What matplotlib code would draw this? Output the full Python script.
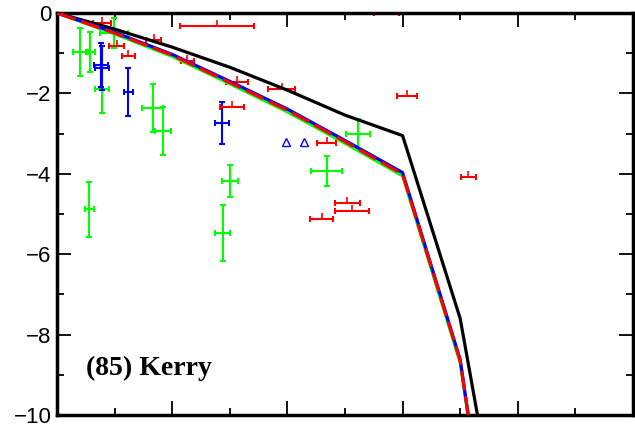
import numpy as np
import matplotlib
matplotlib.use("Agg")
import matplotlib.pyplot as plt

# model curves
curve_x = [0, 0.5, 1.0, 1.5, 2.0, 2.5, 3.0, 3.5, 3.65]
black_y = [0, -0.40, -0.85, -1.35, -1.92, -2.54, -3.05, -7.6, -10.0]
mix_x = [0, 0.5, 1.0, 1.5, 2.0, 2.5, 3.0, 3.5, 3.57]
blue_y = [0, -0.48, -1.03, -1.70, -2.39, -3.17, -3.97, -8.62, -10.0]
green_y = [0, -0.52, -1.08, -1.76, -2.46, -3.24, -4.05, -8.70, -10.05]
red_y = [0, -0.50, -1.05, -1.73, -2.42, -3.20, -4.01, -8.65, -10.0]

# green data points (x, y, xerr, yerr)
gx = [0.20, 0.29, 0.495, 0.39, 0.83, 0.92, 0.28, 1.50, 1.44, 2.61, 2.34]
gy = [-0.97, -0.97, -0.50, -1.89, -2.37, -2.93, -4.88, -4.18, -5.47, -3.01, -3.93]
gxe = [0.065, 0.04, 0.12, 0.06, 0.09, 0.07, 0.04, 0.07, 0.065, 0.105, 0.135]
gye = [0.60, 0.50, 0.37, 0.60, 0.60, 0.60, 0.68, 0.40, 0.70, 0.37, 0.38]

# blue data points
bx = [0.38, 0.39, 0.62, 1.43]
by = [-1.29, -1.37, -1.96, -2.74]
bxe = [0.06, 0.06, 0.04, 0.06]
bye = [0.55, 0.55, 0.60, 0.52]
tri_x = [1.99, 2.14]
tri_y = [-3.2, -3.2]

# red data points (x error only)
rx = [0.39, 0.52, 0.62, 0.84, 1.13, 1.39, 1.56, 1.52, 1.95, 2.34, 2.52, 2.56, 2.30, 3.04, 3.57, 2.86]
ry = [-0.25, -0.81, -1.06, -0.66, -1.19, -0.32, -1.72, -2.34, -1.89, -3.23, -4.73, -4.93, -5.12, -2.06, -4.08, 0.0]
rxe = [0.08, 0.065, 0.06, 0.065, 0.055, 0.32, 0.095, 0.105, 0.115, 0.08, 0.11, 0.15, 0.10, 0.085, 0.065, 0.11]

fig = plt.figure(figsize=(6.35, 4.28), dpi=100)
ax = fig.add_axes([0.0898, 0.0304, 0.907, 0.9392])

ax.plot(curve_x, black_y, color="black", lw=2.3, zorder=3)
ax.plot(mix_x, green_y, color="#00ff00", lw=2.3, zorder=3)
ax.plot(mix_x, blue_y, color="#0000ff", lw=2.3, zorder=3)
ax.plot(mix_x, red_y, color="#ff0000", lw=2.3, dashes=(6, 2), zorder=4)

ax.errorbar(gx, gy, xerr=gxe, yerr=gye, fmt="none", ecolor="#00ff00",
            elinewidth=1.5, capsize=2, capthick=1.5, zorder=2)
ax.errorbar(bx, by, xerr=bxe, yerr=bye, fmt="none", ecolor="#0000ff",
            elinewidth=1.5, capsize=2, capthick=1.5, zorder=2)
ax.plot(tri_x, tri_y, ls="none", marker="^", ms=6, mfc="none", mec="#0000ff", mew=1.0)
ax.errorbar(rx, ry, xerr=rxe, fmt="none", ecolor="#ff0000",
            elinewidth=1.5, capsize=2, capthick=1.5, zorder=2)
ax.plot(rx, ry, ls="none", marker=2, ms=4, mec="#ff0000", mew=1.2)

ax.text(0.25, -8.83, "(85) Kerry", family="Liberation Serif", fontweight="bold",
        fontsize=20, va="center")

ax.set_xlim(0, 5)
ax.set_ylim(-10, 0)
ax.set_xticks(np.arange(0, 5.01, 1))
ax.set_xticks(np.arange(0.5, 5, 1), minor=True)
ax.set_yticks(np.arange(-10, 0.01, 2))
ax.set_yticks(np.arange(-9, 0, 2), minor=True)
ax.set_xticklabels([])
ax.tick_params(which="both", direction="in", top=True, right=True, width=1.3)
ax.tick_params(which="major", length=10)
ax.tick_params(which="minor", length=5)
ax.tick_params(axis="y", labelsize=16, pad=4)
for lab in ax.get_yticklabels():
    lab.set_family("Liberation Sans")
for s in ax.spines.values():
    s.set_linewidth(2.5)

fig.savefig("out.png", dpi=100)
